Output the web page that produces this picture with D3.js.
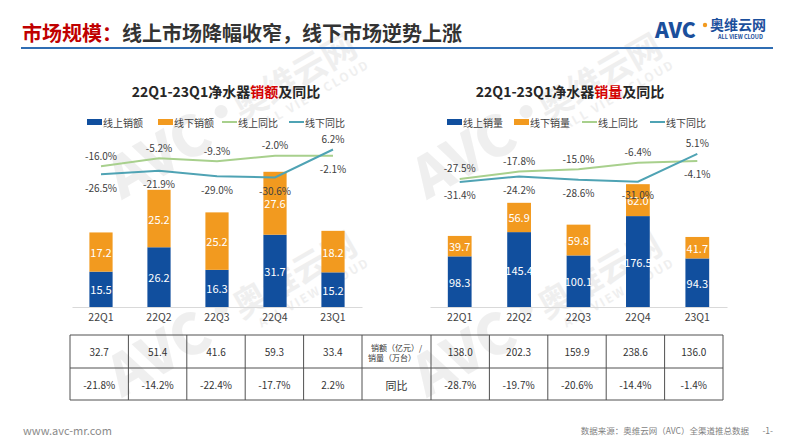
<!DOCTYPE html>
<html><head><meta charset="utf-8">
<script src="https://cdn.jsdelivr.net/npm/d3@7"></script>
<style>
body{margin:0;background:#fff}
svg{display:block}
text{font-family:"Noto Sans CJK SC","Noto Sans",sans-serif}
</style>
</head><body>
<svg id="c" width="793" height="446"></svg>
<script>
// ---------- data ----------
const categories = ["22Q1","22Q2","22Q3","22Q4","23Q1"];
const salesOnline  = [15.5, 26.2, 16.3, 31.7, 15.2];
const salesOffline = [17.2, 25.2, 25.2, 27.6, 18.2];
const salesOnlineYoy  = [-16.0, -5.2, -9.3, -2.0, -2.1];
const salesOfflineYoy = [-26.5, -21.9, -29.0, -30.6, 6.2];
const salesTotal    = [32.7, 51.4, 41.6, 59.3, 33.4];
const salesTotalYoy = [-21.8, -14.2, -22.4, -17.7, 2.2];

const volOnline  = [98.3, 145.4, 100.1, 176.5, 94.3];
const volOffline = [39.7, 56.9, 59.8, 62.0, 41.7];
const volOnlineYoy  = [-27.5, -17.8, -15.0, -6.4, -4.1];
const volOfflineYoy = [-31.4, -24.2, -28.6, -31.0, 5.1];
const volTotal    = [138.0, 202.3, 159.9, 238.6, 136.0];
const volTotalYoy = [-28.7, -19.7, -20.6, -14.4, -1.4];

const salesLegend = ["线上销额","线下销额","线上同比","线下同比"];
const volLegend   = ["线上销量","线下销量","线上同比","线下同比"];
const tableHeader = ["销额（亿元）/","销量（万台）"];
const tableYoyHeader = "同比";

const C = {blue:"#114f9e", orange:"#f29a1f", green:"#a8d08d", teal:"#4fa3b4", text:"#404040"};
const svg = d3.select("#c");

// ---------- watermarks ----------
function watermark(x, y){
  const g = svg.append("g").attr("transform",`translate(${x},${y}) rotate(-30)`)
    .attr("fill","#d9d9d9").attr("opacity",0.4);
  g.append("text").attr("x",0).attr("y",0).attr("font-size",56).attr("font-weight",900)
    .attr("font-family","Liberation Sans, sans-serif").text("AVC");
  g.append("circle").attr("cx",130).attr("cy",-27).attr("r",6.5);
  g.append("text").attr("x",143).attr("y",-8).attr("font-size",34).attr("font-weight",700).text("奥维云网");
  g.append("text").attr("x",156).attr("y",9).attr("font-size",12).attr("font-weight",700)
    .attr("letter-spacing",2).attr("font-family","Liberation Sans, sans-serif").text("ALL VIEW CLOUD");
}
watermark(122,200); watermark(427,200); watermark(122,398); watermark(427,398);

// ---------- header ----------
const title = svg.append("text").attr("x",22).attr("y",32).attr("dominant-baseline","central")
  .attr("font-size",20).attr("font-weight",700);
title.append("tspan").attr("fill","#c00000").text("市场规模：");
title.append("tspan").attr("fill","#333333").text("线上市场降幅收窄，线下市场逆势上涨");
svg.append("line").attr("x1",21).attr("x2",773).attr("y1",48).attr("y2",48)
  .attr("stroke","#2f6db3").attr("stroke-width",2);
// logo
const logo = svg.append("g");
logo.append("text").attr("x",655).attr("y",38).attr("font-size",21).attr("font-weight",900)
  .attr("font-family","Liberation Sans, sans-serif").attr("fill","#1b4f9c").text("AVC");
logo.append("circle").attr("cx",705).attr("cy",25).attr("r",2.2).attr("fill",C.orange);
logo.append("text").attr("x",710).attr("y",30).attr("font-size",14).attr("font-weight",700)
  .attr("fill","#1b4f9c").text("奥维云网");
logo.append("text").attr("x",718).attr("y",39).attr("font-size",5.5).attr("font-weight",700)
  .attr("font-family","Liberation Sans, sans-serif").attr("fill","#1b4f9c").text("ALL VIEW CLOUD");

// ---------- chart drawer ----------
function drawChart(o){
  const x = d3.scaleBand().domain(categories).range(o.xr).paddingInner(0.6).paddingOuter(0.3);
  const y = d3.scaleLinear().domain(o.barDomain).range([307, 307 - o.barPx]);
  const yy = d3.scaleLinear().domain([-40, 10]).range(o.yoyRange);
  const cx = d => x(d) + x.bandwidth()/2;
  const g = svg.append("g");

  // title
  const t = g.append("text").attr("x",o.titleX).attr("y",91).attr("text-anchor","middle")
    .attr("dominant-baseline","central").attr("font-size",14).attr("font-weight",700).attr("fill","#262626");
  t.append("tspan").text("22Q1-23Q1净水器");
  t.append("tspan").attr("fill","#d40000").text(o.titleRed);
  t.append("tspan").text("及同比");

  // legend
  const lg = g.append("g").attr("font-size",10).attr("fill",C.text);
  o.legendX.forEach((lx,i)=>{
    if(i<2) lg.append("rect").attr("x",lx).attr("y",119).attr("width",15).attr("height",6)
      .attr("fill", i==0?C.blue:C.orange);
    else lg.append("line").attr("x1",lx).attr("x2",lx+15).attr("y1",122).attr("y2",122)
      .attr("stroke", i==2?C.green:C.teal).attr("stroke-width",2);
    lg.append("text").attr("x",lx+16).attr("y",122).attr("dominant-baseline","central").text(o.legend[i]);
  });

  // bars
  const rows = categories.map((c,i)=>({c, on:o.on[i], off:o.off[i]}));
  const bars = g.append("g");
  bars.selectAll(".on").data(rows).join("rect")
    .attr("x",d=>x(d.c)).attr("width",x.bandwidth())
    .attr("y",d=>y(d.on)).attr("height",d=>y(0)-y(d.on)).attr("fill",C.blue);
  bars.selectAll(".off").data(rows).join("rect")
    .attr("x",d=>x(d.c)).attr("width",x.bandwidth())
    .attr("y",d=>y(d.on+d.off)).attr("height",d=>y(d.on)-y(d.on+d.off)).attr("fill",C.orange);
  const bl = g.append("g").attr("font-size",11).attr("fill","#fff").attr("text-anchor","middle");
  rows.forEach(d=>{
    bl.append("text").attr("x",cx(d.c)).attr("y",(y(0)+y(d.on))/2).attr("dominant-baseline","central").text(d.on.toFixed(1));
    bl.append("text").attr("x",cx(d.c)).attr("y",(y(d.on)+y(d.on+d.off))/2).attr("dominant-baseline","central").text(d.off.toFixed(1));
  });

  // axis
  const ax = g.append("g").attr("transform","translate(0,307)")
    .call(d3.axisBottom(x).tickSize(0).tickPadding(7));
  ax.select(".domain").attr("stroke","#d9d9d9");
  ax.selectAll("text").attr("font-size",10.5).attr("fill",C.text)
    .attr("font-family",'"Noto Sans CJK SC","Noto Sans",sans-serif');

  // yoy lines
  const line = d3.line().x((d,i)=>cx(categories[i])).y(d=>yy(d));
  g.append("path").datum(o.onY).attr("d",line).attr("fill","none").attr("stroke",C.green).attr("stroke-width",2);
  g.append("path").datum(o.offY).attr("d",line).attr("fill","none").attr("stroke",C.teal).attr("stroke-width",2);
  const ll = g.append("g").attr("font-size",10).attr("fill",C.text).attr("text-anchor","middle");
  categories.forEach((c,i)=>{
    const onHigh = o.onY[i] > o.offY[i];
    [[o.onY[i], onHigh],[o.offY[i], !onHigh]].forEach(([v,high])=>{
      ll.append("text").attr("x",cx(c)).attr("y", yy(v) + (high? -11 : 13))
        .attr("dominant-baseline","central").text(v.toFixed(1)+"%");
    });
  });
}

drawChart({xr:[72,362], barDomain:[0,70], barPx:159.6, yoyRange:[184.6,146.6],
  titleX:226, titleRed:"销额", legend:salesLegend, legendX:[87,158,222,289],
  on:salesOnline, off:salesOffline, onY:salesOnlineYoy, offY:salesOfflineYoy});
drawChart({xr:[430,727], barDomain:[0,300], barPx:154.5, yoyRange:[188.6,150.1],
  titleX:570, titleRed:"销量", legend:volLegend, legendX:[447,514,582,650],
  on:volOnline, off:volOffline, onY:volOnlineYoy, offY:volOfflineYoy});

// ---------- table ----------
const tb = svg.append("g");
const tl = d3.scaleBand().domain(categories).range([70,362]);
const tr = d3.scaleBand().domain(categories).range([431,723]);
const rowsY = [335,368,400];
const stroke = "#505050";
rowsY.forEach(yv=>tb.append("line").attr("x1",70).attr("x2",723).attr("y1",yv).attr("y2",yv).attr("stroke",stroke).attr("stroke-width",1));
const colX = [...categories.map(c=>tl(c)), 362, ...categories.map(c=>tr(c)), 723];
colX.forEach(xv=>tb.append("line").attr("x1",xv).attr("x2",xv).attr("y1",335).attr("y2",400).attr("stroke",stroke).attr("stroke-width",1));
const tt = tb.append("g").attr("font-size",10).attr("fill","#333").attr("text-anchor","middle");
const pct = v => v.toFixed(1)+"%";
categories.forEach((c,i)=>{
  tt.append("text").attr("x",tl(c)+tl.bandwidth()/2).attr("y",351.5).attr("dominant-baseline","central").text(salesTotal[i].toFixed(1));
  tt.append("text").attr("x",tl(c)+tl.bandwidth()/2).attr("y",384.5).attr("dominant-baseline","central").text(pct(salesTotalYoy[i]));
  tt.append("text").attr("x",tr(c)+tr.bandwidth()/2).attr("y",351.5).attr("dominant-baseline","central").text(volTotal[i].toFixed(1));
  tt.append("text").attr("x",tr(c)+tr.bandwidth()/2).attr("y",384.5).attr("dominant-baseline","central").text(pct(volTotalYoy[i]));
});
tt.append("text").attr("x",396.5).attr("y",347).attr("font-size",8).attr("dominant-baseline","central").text(tableHeader[0]);
tt.append("text").attr("x",392).attr("y",357).attr("font-size",8).attr("dominant-baseline","central").text(tableHeader[1]);
tt.append("text").attr("x",396.5).attr("y",384.5).attr("font-size",11).attr("dominant-baseline","central").text(tableYoyHeader);

// ---------- footer ----------
svg.append("text").attr("x",23).attr("y",430).attr("dominant-baseline","central")
  .attr("font-family","Liberation Serif, serif").attr("font-size",11).attr("fill","#8a8a8a").text("www.avc-mr.com");
svg.append("text").attr("x",749).attr("y",430).attr("dominant-baseline","central").attr("text-anchor","end")
  .attr("font-size",8.5).attr("fill","#7f7f7f").text("数据来源：奥维云网（AVC）全渠道推总数据");
svg.append("text").attr("x",773).attr("y",430).attr("dominant-baseline","central").attr("text-anchor","end")
  .attr("font-size",8.5).attr("fill","#7f7f7f").text("-1-");
</script>
</body></html>
